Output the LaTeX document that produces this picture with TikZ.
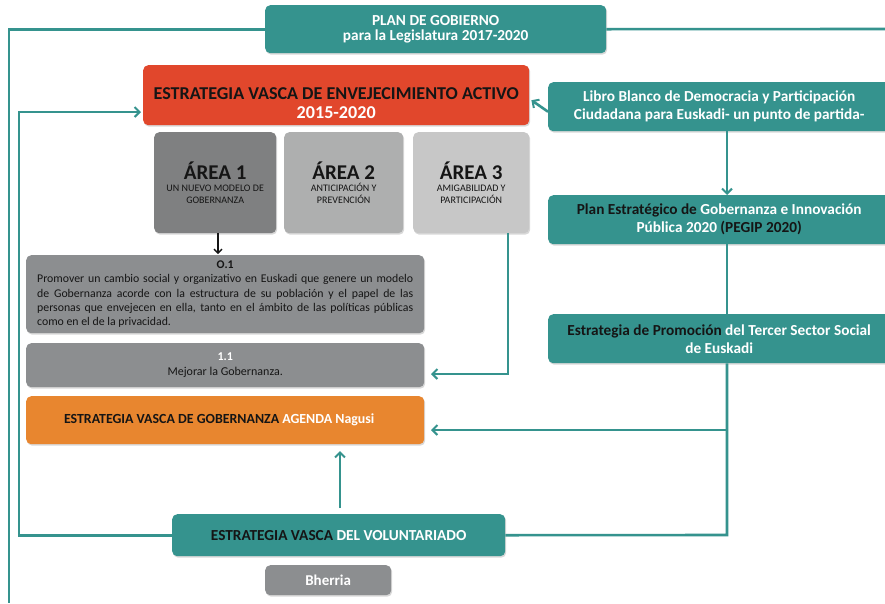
\documentclass[tikz,border=0pt]{standalone}
\usepackage{fontspec}
\setmainfont{Carlito}
\usetikzlibrary{arrows.meta,shadows}
\definecolor{teal}{HTML}{35938E}
\definecolor{redb}{HTML}{E1472C}
\definecolor{orangeb}{HTML}{E8862F}
\definecolor{gA}{HTML}{7F8081}
\definecolor{gB}{HTML}{AEAFAF}
\definecolor{gC}{HTML}{C7C7C7}
\definecolor{gD}{HTML}{8C8E90}
\definecolor{ink}{HTML}{151515}
\begin{document}
\begin{tikzpicture}[x=1pt,y=-1pt,
  box/.style={rounded corners=5pt, inner sep=0pt, align=center, anchor=north west,
    drop shadow={shadow xshift=1pt, shadow yshift=-1.5pt, opacity=0.3}},
  tbox/.style={box, fill=teal, text=white, font=\bfseries\fontsize{15.3}{18}\selectfont},
  conn/.style={draw=teal, line width=2.6pt},
  arr/.style={conn, -{Straight Barb[length=5pt,width=10pt,line width=2pt]}},
  areabox/.style={box, minimum height=101pt, text=ink, font=\fontsize{10}{12}\selectfont},
]
\useasboundingbox (0,0) rectangle (885,603);
\fill[white] (0,0) rectangle (885,603);

% nodes
\node[tbox, minimum width=341pt, minimum height=48pt, font=\bfseries\fontsize{15.3}{15.5}\selectfont] (plan) at (265,5)
  {PLAN DE GOBIERNO\\para la Legislatura 2017-2020};
\node[box, fill=redb, minimum width=386pt, minimum height=60pt, text=ink, font=\bfseries\fontsize{18.1}{19}\selectfont] (red) at (143,65)
  {\rule{0pt}{10pt}\\[-1.3pt]ESTRATEGIA VASCA DE ENVEJECIMIENTO ACTIVO\\\textcolor{white}{2015-2020}};
\node[areabox, fill=gA, minimum width=122pt] (a1) at (154,132)
  {{\bfseries\fontsize{21}{20}\selectfont ÁREA 1}\\UN NUEVO MODELO DE\\GOBERNANZA};
\node[areabox, fill=gB, minimum width=119pt] (a2) at (284,132)
  {{\bfseries\fontsize{21}{20}\selectfont ÁREA 2}\\ANTICIPACIÓN Y\\PREVENCIÓN};
\node[areabox, fill=gC, minimum width=116pt] (a3) at (413,132)
  {{\bfseries\fontsize{21}{20}\selectfont ÁREA 3}\\AMIGABILIDAD Y\\PARTICIPACIÓN};
\node[box, fill=gD, minimum width=398pt, minimum height=78pt, text=ink] (o1) at (26,255)
  {\parbox{376pt}{\fontsize{11.8}{14.2}\selectfont\makebox[\linewidth]{\textbf{O.1}}\par
   Promover un cambio social y organizativo en Euskadi que genere un modelo\linebreak
   de Gobernanza acorde con la estructura de su población y el papel de las\linebreak
   personas que envejecen en ella, tanto en el ámbito de las políticas públicas\linebreak
   como en el de la privacidad.}};
\node[box, fill=gD, minimum width=398pt, minimum height=44pt, text=ink, font=\fontsize{12}{15}\selectfont] (m11) at (26,343)
  {\textbf{\textcolor{white}{1.1}}\\Mejorar la Gobernanza.};
\node[box, fill=orangeb, minimum width=398pt, minimum height=48pt, text=ink, font=\bfseries\fontsize{13.9}{16}\selectfont] (agenda) at (26,396)
  {ESTRATEGIA VASCA DE GOBERNANZA \textcolor{white}{AGENDA Nagusi}\hspace*{12pt}};
\node[tbox, minimum width=342pt, minimum height=49pt] (libro) at (548,82)
  {Libro Blanco de Democracia y Participación\\Ciudadana para Euskadi- un punto de partida-};
\node[tbox, minimum width=342pt, minimum height=49pt] (pegip) at (548,195)
  {\textcolor{ink}{Plan Estratégico de} Gobernanza e Innovación\\Pública 2020 \textcolor{ink}{(PEGIP 2020)}};
\node[tbox, minimum width=342pt, minimum height=49pt] (prom) at (548,314)
  {\textcolor{ink}{Estrategia de Promoción} del Tercer Sector Social\\de Euskadi};
\node[tbox, minimum width=333pt, minimum height=42pt] (vol) at (172,514)
  {\textcolor{ink}{ESTRATEGIA VASCA} DEL VOLUNTARIADO};
\node[box, fill=gD, minimum width=126pt, minimum height=30pt, text=white, font=\bfseries\fontsize{15}{16}\selectfont] (bh) at (265,565)
  {Bherria};

% coordinates
\coordinate (lbot) at (9,603);
\coordinate (rend) at (885,29);
\coordinate (c19) at (19,112);
\coordinate (redin) at (141,112);
\coordinate (spine) at (727,0);
\coordinate (a3x) at (508,374);
\coordinate (m11in) at (431,374);
\coordinate (j1) at (727,430);
\coordinate (agin) at (431,430);
\coordinate (j2) at (727,535);
\coordinate (vup) at (340,508);
\coordinate (agbot) at (340,451);

% connectors
\draw[conn] (plan.west) -| (lbot);
\draw[conn] (plan.east) -- (rend);
\draw[arr] (vol.west) -| (c19) -- (redin);
\draw[arr] ([yshift=-5pt]libro.west) -- ([yshift=-5pt,xshift=2pt]red.east);
\draw[arr] (libro.south -| spine) -- (pegip.north -| spine);
\draw[conn] (pegip.south -| spine) -- (prom.north -| spine);
\draw[conn] (prom.south -| spine) -- (j2) -- (vol.east);
\draw[arr] (j1) -- (agin);
\draw[arr] (a3.south -| a3x) -- (a3x) -- (m11in);
\draw[arr] (vup) -- (agbot);
\draw[ink, line width=1.5pt, -{Straight Barb[length=4pt,width=8pt,line width=1.3pt]}] (a1.south -| 218,0) -- (218,254);
\end{tikzpicture}
\end{document}
